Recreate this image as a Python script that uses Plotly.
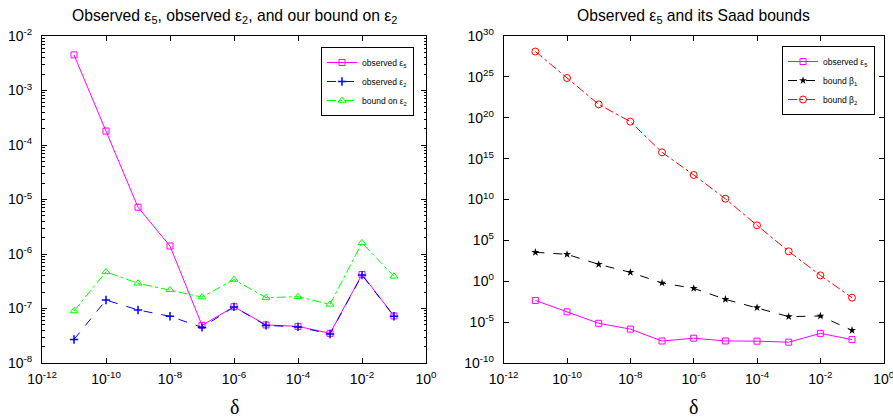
import plotly.graph_objects as go

delta = [1e-11, 1e-10, 1e-9, 1e-8, 1e-7, 1e-6, 1e-5, 1e-4, 1e-3, 1e-2, 1e-1]
obs_eps5 = [4.5e-3, 1.8e-4, 7.2e-6, 1.4e-6, 4.9e-8, 1.08e-7, 5.0e-8, 4.7e-8, 3.5e-8, 4.2e-7, 7.3e-8]
obs_eps2 = [2.7e-8, 1.43e-7, 9.4e-8, 7.2e-8, 4.5e-8, 1.07e-7, 4.9e-8, 4.6e-8, 3.4e-8, 4.1e-7, 7.2e-8]
bound_eps2 = [9.0e-8, 4.7e-7, 2.9e-7, 2.2e-7, 1.62e-7, 3.4e-7, 1.58e-7, 1.65e-7, 1.19e-7, 1.6e-6, 3.9e-7]
log_beta1 = [3.54, 3.29, 2.07, 1.09, -0.21, -0.87, -2.21, -3.23, -4.33, -4.25, -6.0]
log_beta2 = [28.1, 24.86, 21.64, 19.52, 15.77, 13.0, 10.1, 6.84, 3.66, 0.72, -2.01]
beta1 = [10 ** v for v in log_beta1]
beta2 = [10 ** v for v in log_beta2]

x_exps = [-12, -10, -8, -6, -4, -2, 0]
y1_exps = [-8, -7, -6, -5, -4, -3, -2]
y2_exps = [-10, -5, 0, 5, 10, 15, 20, 25, 30]

def lab(e):
    return "10<sup>%d</sup>" % e

FONT = "Liberation Sans, Arial, sans-serif"
W, H = 893, 420
L1, R1 = 42, 426
L2, R2 = 503.7, 883.7
TOP, BOT = 36, 363

fig = go.Figure()

fig.add_trace(go.Scatter(x=delta, y=obs_eps5, name="observed ε<sub>5</sub>", mode="lines+markers",
                         line=dict(color="#ff00ff", width=1), marker=dict(symbol="square-open", size=6, color="#ff00ff"),
                         xaxis="x", yaxis="y", legend="legend"))
fig.add_trace(go.Scatter(x=delta, y=obs_eps2, name="observed ε<sub>2</sub>", mode="lines+markers",
                         line=dict(color="#0000ff", width=1, dash="dash"),
                         marker=dict(symbol="cross-thin-open", size=6, color="#0000ff", line=dict(width=1.5, color="#0000ff")),
                         xaxis="x", yaxis="y", legend="legend"))
fig.add_trace(go.Scatter(x=delta, y=bound_eps2, name="bound on ε<sub>2</sub>", mode="lines+markers",
                         line=dict(color="#00ff00", width=1, dash="dashdot"),
                         marker=dict(symbol="triangle-up-open", size=7, color="#00ff00"),
                         xaxis="x", yaxis="y", legend="legend"))

fig.add_trace(go.Scatter(x=delta, y=obs_eps5, name="observed ε<sub>5</sub>", mode="lines+markers",
                         line=dict(color="#ff00ff", width=1), marker=dict(symbol="square-open", size=6, color="#ff00ff"),
                         xaxis="x2", yaxis="y2", legend="legend2"))
fig.add_trace(go.Scatter(x=delta, y=beta1, name="bound β<sub>1</sub>", mode="lines+markers",
                         line=dict(color="#000000", width=1, dash="dash"),
                         marker=dict(symbol="star", size=6, color="#000000"),
                         xaxis="x2", yaxis="y2", legend="legend2"))
fig.add_trace(go.Scatter(x=delta, y=beta2, name="bound β<sub>2</sub>", mode="lines+markers",
                         line=dict(color="#ff0000", width=1, dash="dashdot"),
                         marker=dict(symbol="circle-open", size=7, color="#ff0000"),
                         xaxis="x2", yaxis="y2", legend="legend2"))

minor_y1 = [k * 10 ** e for e in range(-8, -2) for k in range(2, 10)]

axis_common = dict(type="log", showgrid=False, zeroline=False, showline=True, linecolor="black", linewidth=1,
                   mirror="ticks", ticks="inside", ticklen=5, tickcolor="black", automargin=False,
                   ticklabeloverflow="allow",
                   tickfont=dict(family=FONT, size=14, color="black"), tickmode="array")

fig.update_layout(
    width=W, height=H, margin=dict(l=0, r=0, t=0, b=0, autoexpand=False),
    paper_bgcolor="white", plot_bgcolor="white",
    font=dict(family=FONT, color="black"),
    xaxis=dict(domain=[L1 / W, R1 / W], range=[-12, 0], anchor="y", ticklabelstandoff=3,
               tickvals=[10 ** e for e in x_exps], ticktext=[lab(e) for e in x_exps], **axis_common),
    yaxis=dict(domain=[1 - BOT / H, 1 - TOP / H], range=[-8, -2], anchor="x", ticklabelstandoff=6,
               tickvals=[10 ** e for e in y1_exps], ticktext=[lab(e) for e in y1_exps],
               minor=dict(ticks="inside", ticklen=2.5, tickcolor="black", tickvals=minor_y1), **axis_common),
    xaxis2=dict(domain=[L2 / W, R2 / W], range=[-12, 0], anchor="y2", ticklabelstandoff=3,
                tickvals=[10 ** e for e in x_exps], ticktext=[lab(e) for e in x_exps], **axis_common),
    yaxis2=dict(domain=[1 - BOT / H, 1 - TOP / H], range=[-10, 30], anchor="x2", ticklabelstandoff=6,
                tickvals=[10.0 ** e for e in y2_exps], ticktext=[lab(e) for e in y2_exps], **axis_common),
    legend=dict(x=414 / W, y=1 - 47 / H, xanchor="right", yanchor="top", bgcolor="white",
                bordercolor="black", borderwidth=1, font=dict(family=FONT, size=8.5), itemwidth=30,
                tracegroupgap=0),
    legend2=dict(x=875 / W, y=1 - 46 / H, xanchor="right", yanchor="top", bgcolor="white",
                 bordercolor="black", borderwidth=1, font=dict(family=FONT, size=8.5), itemwidth=30,
                 tracegroupgap=0),
    showlegend=True,
    annotations=[
        dict(text="Observed ε<sub>5</sub>, observed ε<sub>2</sub>, and our bound on ε<sub>2</sub>",
             x=(L1 + R1) / 2 / W, y=1 - 17 / H, xref="paper", yref="paper", showarrow=False,
             font=dict(family=FONT, size=15.7), xanchor="center", yanchor="middle"),
        dict(text="Observed ε<sub>5</sub> and its Saad bounds",
             x=(L2 + R2) / 2 / W, y=1 - 17 / H, xref="paper", yref="paper", showarrow=False,
             font=dict(family=FONT, size=15.7), xanchor="center", yanchor="middle"),
        dict(text="δ", x=(L1 + R1) / 2 / W, y=1 - 407 / H, xref="paper", yref="paper", showarrow=False,
             font=dict(family="Liberation Serif, serif", size=20), xanchor="center", yanchor="middle"),
        dict(text="δ", x=(L2 + R2) / 2 / W, y=1 - 407 / H, xref="paper", yref="paper", showarrow=False,
             font=dict(family="Liberation Serif, serif", size=20), xanchor="center", yanchor="middle"),
    ],
)

fig.write_html("out.html", config={"displayModeBar": False},
               post_script="document.body.style.margin='0';document.body.style.padding='0';")
